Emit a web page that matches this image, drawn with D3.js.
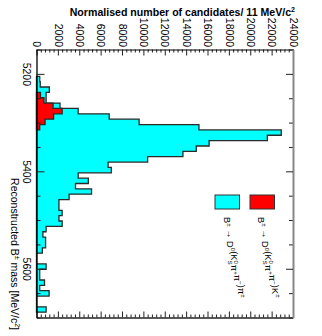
<!DOCTYPE html>
<html><head><meta charset="utf-8">
<script src="https://cdn.jsdelivr.net/npm/d3@7"></script>
<style>
html,body{margin:0;padding:0;background:#fff;}
svg{display:block;font-family:"Liberation Sans",Arial,Helvetica,sans-serif;}
</style></head>
<body>
<svg id="c" width="322" height="336"></svg>
<script>
// ---- data ----
const binStart = 5150;   // MeV/c^2
const binWidth = 11;     // MeV/c^2
const cyanCounts = [0,0,0,0,0,300,350,1200,900,900,
  2200,3900,6800,9600,15200,22900,21600,16150,14950,13700,
  10400,6700,7000,3900,4850,3650,5150,3050,2100,2100,
  2400,2100,2400,900,600,850,850,550,0,0,
  900,300,300,750,300,1180,0,0,900,0];
const redCounts = [0,0,0,0,0,0,0,0,370,700,
  1550,2400,1600,800,300,0,0,0,0,0,
  0,0,0,0,0,0,0,0,0,0,
  0,0,0,0,0,0,0,0,0,0,
  0,0,0,0,0,0,0,0,0,0];
const valueTicks = [0,2000,4000,6000,8000,10000,12000,14000,16000,18000,20000,22000,24000];
const valueMinorTicks = d3.range(0,24001,400).filter(v=>v%2000!==0);
const massTicks = [5200,5400,5600];
const massMinorTicks = [5150,5250,5300,5350,5450,5500,5550,5650,5700];
const legendLabels = ["K","π"]; // final particle of each channel

// ---- layout ----
const L=36.5, R=293, T=49.5, B=317.5;
const svg = d3.select("#c");
const x = d3.scaleLinear().domain([0,24000]).range([L,R]);
const y = d3.scaleLinear().domain([5150,5700]).range([T,B]);

function histPath(counts){
  const pts=[];
  const first = counts.findIndex(v=>v>0);
  let last = counts.length-1; while(last>0 && counts[last]===0) last--;
  pts.push([0, binStart+first*binWidth]);
  for(let i=first;i<=last;i++){
    const lo=binStart+i*binWidth, hi=lo+binWidth;
    pts.push([counts[i],lo]); pts.push([counts[i],hi]);
  }
  pts.push([0, binStart+(last+1)*binWidth]);
  return d3.line().x(d=>x(d[0])).y(d=>y(d[1]))(pts);
}

svg.append("path").attr("d",histPath(cyanCounts)+"Z").attr("fill","#00ffff")
  .attr("stroke","#2a2a2a").attr("stroke-width",1.3).attr("stroke-linejoin","miter");
svg.append("path").attr("d",histPath(redCounts)+"Z").attr("fill","#ff0000")
  .attr("stroke","#2a2a2a").attr("stroke-width",1.3);

// ---- axes ----
const fs = 10.5;
// top (value) axis
const gTop = svg.append("g").attr("transform",`translate(0,${T})`);
gTop.call(d3.axisTop(x).tickValues(valueMinorTicks).tickSizeInner(-3).tickSizeOuter(0).tickFormat(""));
gTop.call(g=>g.select(".domain").remove());
const gTopM = svg.append("g").attr("transform",`translate(0,${T})`);
gTopM.call(d3.axisTop(x).tickValues(valueTicks).tickSizeInner(-6).tickSizeOuter(0).tickFormat(d3.format("d")));
gTopM.selectAll("text").attr("x",0).attr("y",0).attr("dy","0.36em")
  .attr("text-anchor","end").attr("transform","translate(0,-2.5) rotate(90)")
  .attr("font-size",fs).attr("font-family",null).attr("fill","#000");
gTopM.select(".domain").attr("stroke","#000").attr("stroke-width",1.2);

// bottom mirror
const gBot = svg.append("g").attr("transform",`translate(0,${B})`);
gBot.call(d3.axisBottom(x).tickValues(valueMinorTicks).tickSizeInner(-3).tickSizeOuter(0).tickFormat(""));
gBot.select(".domain").remove();
const gBotM = svg.append("g").attr("transform",`translate(0,${B})`);
gBotM.call(d3.axisBottom(x).tickValues(valueTicks).tickSizeInner(-6).tickSizeOuter(0).tickFormat(""));
gBotM.select(".domain").attr("stroke","#222").attr("stroke-width",1.3);

// left (mass) axis
const gLeft = svg.append("g").attr("transform",`translate(${L},0)`);
gLeft.call(d3.axisLeft(y).tickValues(massMinorTicks).tickSizeInner(-4).tickSizeOuter(0).tickFormat(""));
gLeft.select(".domain").remove();
const gLeftM = svg.append("g").attr("transform",`translate(${L},0)`);
gLeftM.call(d3.axisLeft(y).tickValues(massTicks).tickSizeInner(-8).tickSizeOuter(0).tickFormat(d3.format("d")));
gLeftM.selectAll("text").attr("x",0).attr("y",0).attr("dy",null)
  .attr("text-anchor","middle").attr("transform","translate(-13.5,0) rotate(90)")
  .attr("font-size",fs).attr("fill","#000");
gLeftM.select(".domain").attr("stroke","#000").attr("stroke-width",1.3);

// right mirror
const gRight = svg.append("g").attr("transform",`translate(${R},0)`);
gRight.call(d3.axisRight(y).tickValues(massMinorTicks).tickSizeInner(-4).tickSizeOuter(0).tickFormat(""));
gRight.select(".domain").remove();
const gRightM = svg.append("g").attr("transform",`translate(${R},0)`);
gRightM.call(d3.axisRight(y).tickValues(massTicks).tickSizeInner(-7).tickSizeOuter(0).tickFormat(""));
gRightM.select(".domain").attr("stroke","#888").attr("stroke-width",2);
svg.selectAll(".tick line").attr("stroke","#222");

// ---- titles ----
const tt = svg.append("text").attr("x",R+2).attr("y",16).attr("text-anchor","end")
  .attr("font-size",10.6).attr("font-weight","bold").attr("fill","#000");
tt.append("tspan").text("Normalised number of candidates/ 11 MeV/c");
tt.append("tspan").attr("font-size",7).attr("dy",-4.5).text("2");

const mt = svg.append("text").attr("transform","translate(10.5,330) rotate(90)")
  .attr("text-anchor","end").attr("font-size",fs).attr("fill","#000");
mt.append("tspan").text("Reconstructed B");
mt.append("tspan").attr("font-size",7).attr("dy",-4).text("±");
mt.append("tspan").attr("dy",4).text(" mass [MeV/c");
mt.append("tspan").attr("font-size",7).attr("dy",-4).text("2");
mt.append("tspan").attr("dy",4).text("]");

// ---- legend ----
const legend = [
  {fill:"#ff0000", bx:250, tx:258, last:legendLabels[0]},
  {fill:"#00ffff", bx:215, tx:223.5, last:legendLabels[1]}
];
legend.forEach(d=>{
  svg.append("rect").attr("x",d.bx).attr("y",195).attr("width",24.5).attr("height",14)
    .attr("fill",d.fill).attr("stroke","#333").attr("stroke-width",1);
  const t = svg.append("text").attr("transform",`translate(${d.tx},217) rotate(90)`)
    .attr("font-size",9.3).attr("fill","#000");
  const sup=(s)=>{t.append("tspan").attr("font-size",6.2).attr("dy",-3.5).text(s); t.append("tspan").attr("dy",3.5).text("");};
  t.append("tspan").text("B"); sup("±");
  t.append("tspan").text(" → D"); sup("0");
  t.append("tspan").text("(K");
  t.append("tspan").attr("font-size",6.2).attr("dy",-3.5).text("0");
  t.append("tspan").attr("font-size",6.2).attr("dx",-3.4).attr("dy",6).text("S");
  t.append("tspan").attr("dy",-2.5).text("π"); sup("+");
  t.append("tspan").text("π"); sup("−");
  t.append("tspan").text(")"+d.last); sup("±");
});
</script>
</body></html>
